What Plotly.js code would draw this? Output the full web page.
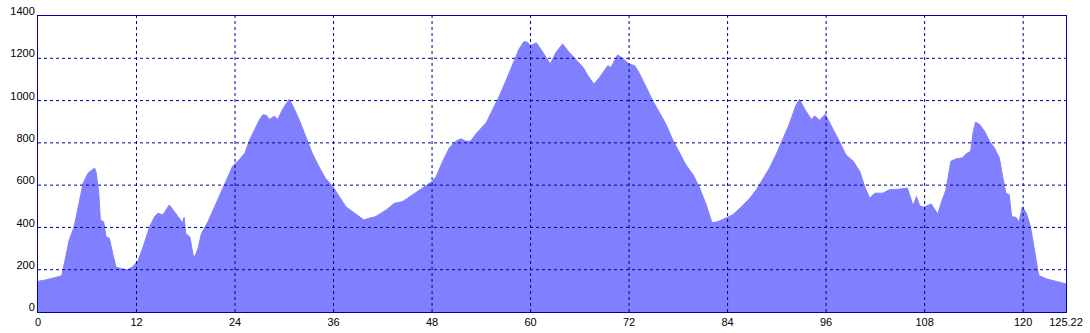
<!DOCTYPE html>
<html>
<head>
<meta charset="utf-8">
<script src="https://cdn.plot.ly/plotly-3.0.1.min.js"></script>
<style>html,body{margin:0;padding:0;background:#fff;}#chart{width:1090px;height:333px;}</style>
</head>
<body>
<div id="chart"></div>
<script>
// Distance (km)
const distanceKm = [0,0.1,1.0,1.5,2.5,2.9,3.2,3.8,4.4,5.1,5.5,6.1,6.6,6.9,7.1,7.4,7.6,8.0,8.3,8.7,9.1,9.5,10.1,10.9,11.5,12.2,12.8,13.6,14.2,14.6,15.2,15.6,16.0,16.6,17.2,17.6,17.8,18.0,18.5,18.9,19.1,19.5,19.9,20.7,21.7,22.7,23.7,24.5,25.2,25.8,26.4,27.0,27.4,27.8,28.2,28.8,29.2,29.8,30.6,31.0,31.8,32.6,33.4,34.2,35.0,35.9,36.7,37.5,38.3,39.1,39.7,40.3,41.1,42.4,43.4,44.4,45.6,46.8,48.0,48.5,49.3,50.1,50.9,51.5,52.1,52.7,53.3,54.2,54.6,55.4,56.2,57.0,57.8,58.6,59.2,59.6,60.0,60.4,60.7,61.5,62.4,63.1,63.9,64.7,65.6,66.4,67.0,67.7,68.4,69.4,69.8,70.6,71.2,72.0,72.7,73.3,74.1,74.9,75.7,76.5,77.3,78.1,78.9,79.8,80.6,81.4,82.1,82.8,83.6,84.6,85.7,86.7,87.5,88.3,89.1,89.9,90.7,91.5,92.3,92.75,93.4,94.2,94.6,95.2,95.9,96.8,97.6,98.4,99.3,100.1,100.7,101.3,101.9,102.9,103.7,104.9,105.9,106.6,107.0,107.4,107.9,108.8,109.3,109.6,110.0,110.6,111.2,111.8,112.6,113.1,113.6,113.9,114.2,114.7,115.3,115.9,116.5,117.1,117.5,117.9,118.3,118.6,119.1,119.5,119.9,120.4,120.9,121.4,121.9,122.8,124.0,125.22];
// Elevation (m)
const elevationM = [140,146,152,157,165,171,228,340,403,546,609,657,673,681,657,562,435,427,355,348,276,213,205,200,213,244,308,403,451,467,459,482,506,475,443,422,448,371,355,268,263,300,371,427,514,601,689,720,752,816,863,911,933,930,911,927,911,959,1006,978,911,832,752,689,633,594,546,498,475,451,435,443,451,482,514,522,554,586,617,641,713,776,808,819,808,808,840,879,895,959,1022,1094,1173,1244,1279,1276,1260,1268,1273,1228,1173,1228,1268,1228,1189,1157,1117,1078,1109,1165,1157,1216,1200,1173,1165,1125,1062,998,943,887,816,760,697,649,586,506,422,427,443,459,498,538,578,633,681,744,816,887,975,1006,959,911,927,908,935,871,808,744,713,665,594,538,562,562,578,581,586,502,546,502,495,511,482,463,514,578,713,724,729,749,760,848,898,887,855,808,776,729,641,562,554,451,448,427,498,467,403,292,173,157,144,133];

const xTickVals = [0,12,24,36,48,60,72,84,96,108,120,125.22];
const xTickText = ['0','12','24','36','48','60','72','84','96','108','120','125.22'];
const yTickVals = [0,200,400,600,800,1000,1200,1400];

const xMax = 125.22, yMax = 1400;

const gridColor = '#000090';
const shapes = [];
xTickVals.forEach(v => {
  if (v > 0 && v < xMax) shapes.push({type:'line', xref:'x', yref:'paper', x0:v, x1:v, y0:0, y1:1, layer:'above', line:{color:gridColor, width:1, dash:'3px,3px'}});
});
yTickVals.forEach(v => {
  if (v > 0 && v < yMax) shapes.push({type:'line', xref:'paper', yref:'y', x0:0, x1:1, y0:v, y1:v, layer:'above', line:{color:gridColor, width:1, dash:'3px,3px'}});
});

const trace = {
  x: distanceKm, y: elevationM, type:'scatter', mode:'lines',
  fill:'tozeroy', fillcolor:'rgb(128,128,255)',
  line:{color:'rgb(128,128,255)', width:1}, hoverinfo:'skip'
};

const axisCommon = {
  showgrid:false, zeroline:false, showline:true, linecolor:'#0000a0', linewidth:1, mirror:true,
  ticks:'', tickfont:{family:'Liberation Sans, Arial, sans-serif', size:11, color:'#000'}
};

const layout = {
  width:1090, height:333,
  margin:{l:38, r:24, t:16, b:21, pad:0},
  paper_bgcolor:'#fff', plot_bgcolor:'#fff',
  showlegend:false,
  xaxis: Object.assign({}, axisCommon, {range:[0,xMax], tickmode:'array', tickvals:xTickVals, ticktext:xTickText, ticklabelstandoff:0}),
  yaxis: Object.assign({}, axisCommon, {range:[0,yMax], tickmode:'array', tickvals:yTickVals, ticklabelposition:'outside top', ticklabelstandoff:0, ticklabelshift:3}),
  shapes: shapes
};

Plotly.newPlot('chart', [trace], layout, {staticPlot:true, displayModeBar:false});
</script>
</body>
</html>
